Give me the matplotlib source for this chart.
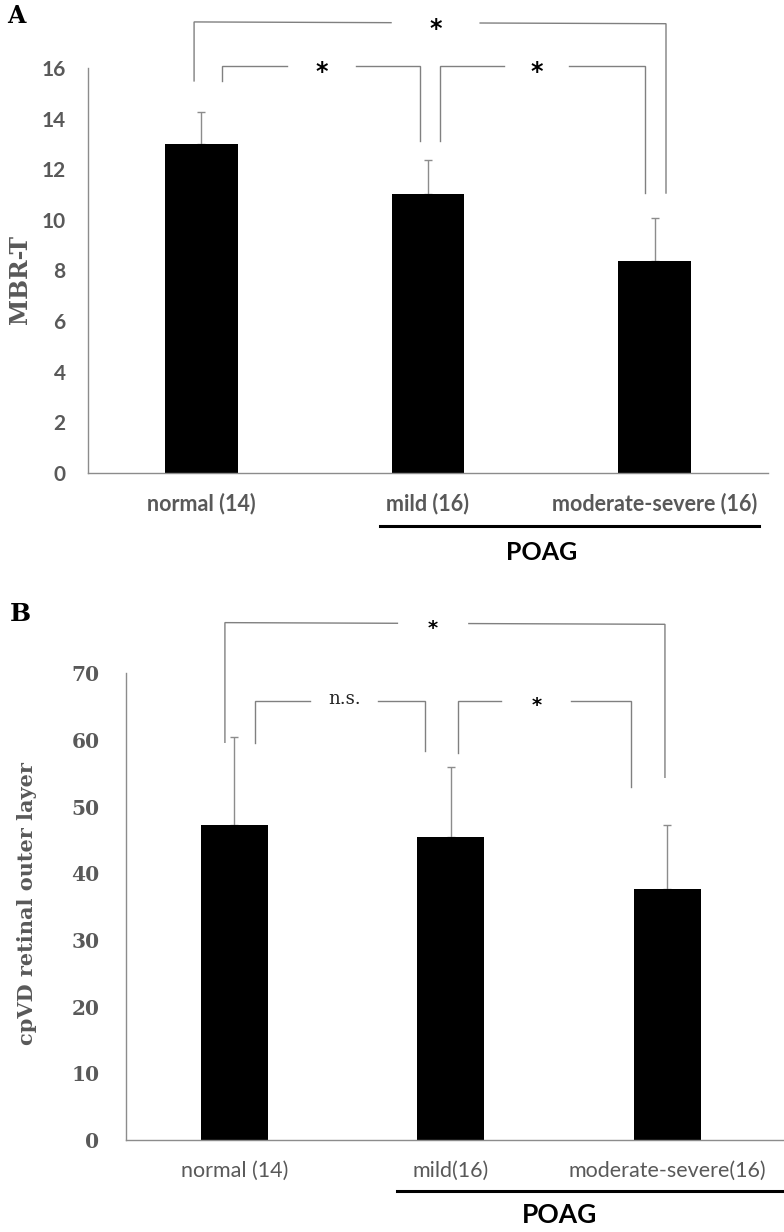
import matplotlib
matplotlib.use("Agg")
import matplotlib.pyplot as plt
import matplotlib.transforms as mtransforms

# ---------------- data ----------------
cats_a = ["normal (14)", "mild (16)", "moderate-severe (16)"]
mean_a = [13.0, 11.02, 8.37]
err_a = [1.27, 1.35, 1.72]
yticks_a = [0, 2, 4, 6, 8, 10, 12, 14, 16]

cats_b = ["normal (14)", "mild(16)", "moderate-severe(16)"]
mean_b = [47.2, 45.5, 37.6]
err_b = [13.2, 10.5, 9.7]
yticks_b = [0, 10, 20, 30, 40, 50, 60, 70]

# significance brackets: (x_left, y_left_bottom, x_right, y_right_bottom, y_top_left, y_top_right, gap_l, gap_r, label)
brk_a = [
    (-0.032, 15.49, 2.05, 11.06, 17.82, 17.75, 0.837, 1.23, "*"),
    (0.091, 15.49, 0.965, 13.12, 16.08, 16.08, 0.378, 0.682, "*"),
    (1.053, 13.12, 1.957, 11.06, 16.08, 16.08, 1.335, 1.622, "*"),
]
brk_b = [
    (-0.043, 59.65, 1.99, 54.4, 77.6, 77.35, 0.754, 1.084, "*"),
    (0.096, 59.5, 0.881, 58.35, 65.9, 65.9, 0.35, 0.666, "n.s."),
    (1.033, 58.0, 1.833, 52.9, 65.9, 65.9, 1.234, 1.558, "*"),
]

W, H = 784, 1232
fig = plt.figure(figsize=(W / 100, H / 100), dpi=100)

GRAY = "#595959"
LINE = "#8c8c8c"
BR = "#808080"


def px_axes(l, r, b, t):
    return fig.add_axes([l / W, (H - b) / H, (r - l) / W, (b - t) / H])


def draw_brackets(ax, brks, star_fs, ns_fs):
    for (xl, yl, xr, yr, ytl, ytr, gl, gr, lab) in brks:
        ax.plot([xl, xl, gl], [yl, ytl, ytl + (ytr - ytl) * (gl - xl) / (xr - xl)],
                color=BR, lw=1.0, clip_on=False, solid_joinstyle="miter")
        ax.plot([gr, xr, xr], [ytl + (ytr - ytl) * (gr - xl) / (xr - xl), ytr, yr],
                color=BR, lw=1.0, clip_on=False, solid_joinstyle="miter")
        xm = (gl + gr) / 2
        ym = (ytl + ytr) / 2
        if lab == "*":
            ax.annotate(lab, (xm, ym), xytext=(0, -0.25 * star_fs), textcoords="offset points",
                        ha="center", va="center", fontsize=star_fs, color="black",
                        family="DejaVu Sans", fontweight="bold", annotation_clip=False)
        else:
            ax.annotate(lab, (xm, ym), xytext=(0, 1), textcoords="offset points",
                        ha="center", va="center", fontsize=ns_fs, color="#222222",
                        family="DejaVu Serif", annotation_clip=False)


def style_axes(ax):
    for s in ["top", "right"]:
        ax.spines[s].set_visible(False)
    for s in ["left", "bottom"]:
        ax.spines[s].set_color(LINE)
        ax.spines[s].set_linewidth(1.0)
    ax.tick_params(length=0)


# ---------------- Panel A ----------------
axA = px_axes(88, 768, 473, 68)
xa = list(range(len(cats_a)))
axA.bar(xa, mean_a, width=0.32, color="black", zorder=2)
axA.errorbar(xa, mean_a, yerr=[[0] * 3, err_a], fmt="none", ecolor=LINE,
             elinewidth=1.0, capsize=3, capthick=1.0, zorder=1)
axA.set_xlim(-0.5, 2.5)
axA.set_ylim(0, 16)
axA.set_yticks(yticks_a)
axA.set_yticklabels([str(v) for v in yticks_a], fontsize=15, fontweight="bold",
                    color=GRAY, family="Lato")
axA.set_xticks(xa)
axA.set_xticklabels(cats_a, fontsize=15.5, fontweight="bold", color=GRAY, family="Lato")
style_axes(axA)
axA.tick_params(axis="y", pad=16)
axA.tick_params(axis="x", pad=14)
axA.set_ylabel("MBR-T", fontsize=17, fontweight="bold", color=GRAY, family="DejaVu Serif")
axA.yaxis.set_label_coords(-0.082, 0.477)
draw_brackets(axA, brk_a, 17, 13)

tA = mtransforms.blended_transform_factory(axA.transData, axA.transAxes)
axA.plot([0.788, 2.46], [-0.131, -0.131], color="black", lw=2.2, transform=tA, clip_on=False)
axA.text(1.503, -0.1975, "POAG", transform=tA, ha="center", va="center",
         fontsize=18, fontweight="bold", color="black", family="Lato")

# ---------------- Panel B ----------------
axB = px_axes(126, 784, 1140, 673.3)
xb = list(range(len(cats_b)))
axB.bar(xb, mean_b, width=0.31, color="black", zorder=2)
axB.errorbar(xb, mean_b, yerr=[[0] * 3, err_b], fmt="none", ecolor=LINE,
             elinewidth=1.0, capsize=3, capthick=1.0, zorder=1)
axB.set_xlim(-0.5, 2.54)
axB.set_ylim(0, 70)
axB.set_yticks(yticks_b)
axB.set_yticklabels([str(v) for v in yticks_b], fontsize=14.5, fontweight="bold",
                    color=GRAY, family="DejaVu Serif")
axB.set_xticks(xb)
axB.set_xticklabels(cats_b, fontsize=15.5, color=GRAY, family="Lato")
style_axes(axB)
axB.tick_params(axis="y", pad=19)
axB.tick_params(axis="x", pad=15)
axB.set_ylabel("cpVD retinal outer layer", fontsize=15, fontweight="bold", color=GRAY,
               family="DejaVu Serif")
axB.yaxis.set_label_coords(-0.135, 0.507)
draw_brackets(axB, brk_b, 14, 13)

tB = mtransforms.blended_transform_factory(axB.transData, axB.transAxes)
axB.plot([0.752, 2.54], [-0.109, -0.109], color="black", lw=2.2, transform=tB, clip_on=False)
axB.text(1.505, -0.161, "POAG", transform=tB, ha="center", va="center",
         fontsize=19, color="black", family="Lato", fontweight="bold")

# panel letters
fig.text(16 / W, 1 - 16 / H, "A", ha="center", va="center", fontsize=17,
         fontweight="bold", family="DejaVu Serif")
fig.text(20 / W, 1 - 614 / H, "B", ha="center", va="center", fontsize=18,
         fontweight="bold", family="DejaVu Serif")

fig.savefig("out.png", dpi=100)
